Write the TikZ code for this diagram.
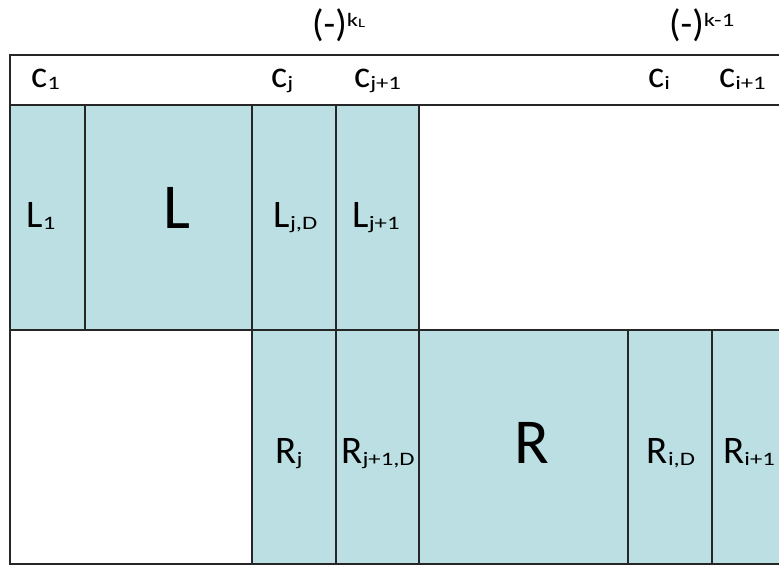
\documentclass[tikz,border=0pt]{standalone}
\usepackage{fontspec}
\setmainfont{Carlito}
\newfontfamily\subfont[FakeStretch=1.3]{Carlito}
\definecolor{cellblue}{HTML}{BBDFE2}
\definecolor{linec}{HTML}{262626}
\newcommand\mysub[1]{\raisebox{-2pt}{\subfont\fontsize{19}{21}\selectfont #1}}
\newcommand\mysup[1]{\raisebox{10pt}{\subfont\fontsize{19}{21}\selectfont #1}}
\newcommand\mysupsub[1]{\raisebox{-1pt}{\subfont\fontsize{13}{14}\selectfont #1}}
\begin{document}
\begin{tikzpicture}[x=1pt,y=-1pt,
  cell/.style={draw=linec, line width=1.2pt, fill=cellblue, inner sep=0pt, outer sep=0pt, rectangle},
  blank/.style={cell, fill=white},
  lab/.style={inner sep=0pt, anchor=base, font=\fontsize{39}{42}\selectfont},
  biglab/.style={inner sep=0pt, anchor=base, font=\fontsize{64}{70}\selectfont},
  hlab/.style={inner sep=0pt, anchor=base west, font=\fontsize{38}{42}\selectfont}]
\useasboundingbox (0,0) rectangle (779,565);
% header strip
\node[blank, minimum width=780pt, minimum height=50pt] (head) at (400,80) {};
% top row
\node[cell, minimum width=75pt, minimum height=225pt] (L1) at (47.5,217.5) {};
\node[cell, minimum width=167pt, minimum height=225pt] (Lb) at (168.5,217.5) {};
\node[cell, minimum width=84pt, minimum height=225pt] (Ljd) at (294,217.5) {};
\node[cell, minimum width=83pt, minimum height=225pt] (Lj1) at (377.5,217.5) {};
% bottom row
\node[blank, minimum width=242pt, minimum height=234pt] (B0) at (131,447) {};
\node[cell, minimum width=84pt, minimum height=234pt] (Rj) at (294,447) {};
\node[cell, minimum width=83pt, minimum height=234pt] (Rj1d) at (377.5,447) {};
\node[cell, minimum width=209pt, minimum height=234pt] (Rb) at (523.5,447) {};
\node[cell, minimum width=84pt, minimum height=234pt] (Rid) at (670,447) {};
\node[cell, minimum width=90pt, minimum height=234pt] (Ri1) at (757,447) {};
% labels in cells
\node[lab] (tL1) at (41,227) {L\mysub{1}};
\node[biglab] (tLb) at (177,228) {L};
\node[lab] (tLjd) at (295.5,227) {L\mysub{j,D}};
\node[lab] (tLj1) at (376,227) {L\mysub{j+1}};
\node[lab] (tRj) at (289,463) {R\mysub{j}};
\node[lab] (tRj1d) at (378,463) {R\mysub{j+1,D}};
\node[biglab] (tRb) at (532,463) {R};
\node[lab] (tRid) at (671,463) {R\mysub{i,D}};
\node[lab] (tRi1) at (749,463) {R\mysub{i+1}};
% header labels
\node[hlab] (c1) at (31,87) {c\mysub{1}};
\node[hlab] (cj) at (271,87) {c\mysub{j}};
\node[hlab] (cj1) at (354,87) {c\mysub{j+1}};
\node[hlab] (ci) at (648,87) {c\mysub{i}};
\node[hlab] (ci1) at (719,87) {c\mysub{i+1}};
% signs above
\node[hlab] (sL) at (312,36) {(-)\mysup{k\mysupsub{L}}};
\node[hlab] (sk) at (669,36) {(-)\mysup{k-1}};
\end{tikzpicture}
\end{document}
